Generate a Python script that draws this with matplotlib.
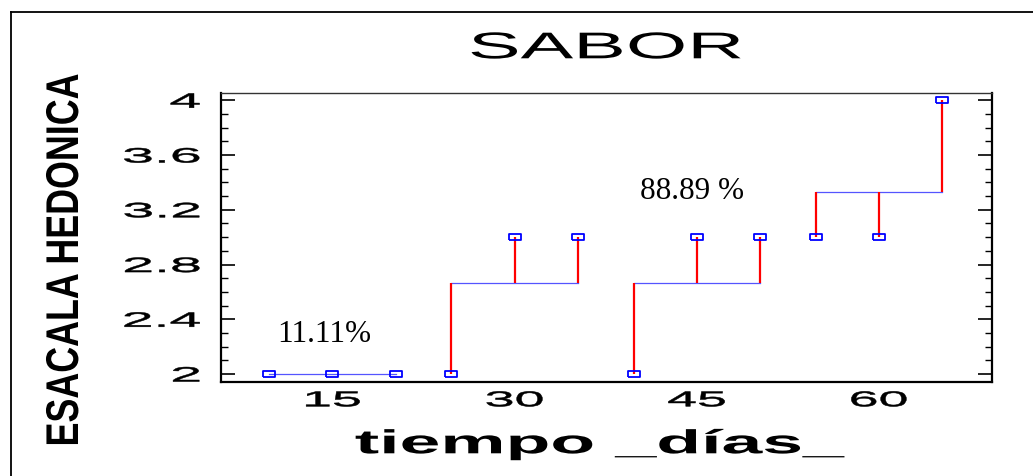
import numpy as np
import matplotlib
matplotlib.use('Agg')
import matplotlib.pyplot as plt
import matplotlib.patheffects as pe
from matplotlib.transforms import Affine2D
from matplotlib.ticker import MultipleLocator
from matplotlib.lines import Line2D

plt.rcParams['font.family'] = ['Liberation Sans', 'DejaVu Sans']

# datos: escala hedonica del sabor, 3 jueces por tiempo
dias = [15, 30, 45, 60]
sabor = [[2, 2, 2],
         [2, 3, 3],
         [2, 3, 3],
         [3, 3, 4]]
ytick_vals = [2, 2.4, 2.8, 3.2, 3.6, 4]
ytick_txt = ['2', '2.4', '2.8', '3.2', '3.6', '4']
notas = ['11.11%', '88.89 %']


class Widen(pe.AbstractPathEffect):
    # the source picture is stretched sideways, so stretch the glyphs too
    # sx along the text line, sy across it (about the baseline)
    def __init__(self, sx, anchor='center', sy=1.0, stroke=0.0):
        super().__init__()
        self.sx = sx
        self.sy = sy
        self.anchor = anchor
        self.stroke = stroke

    def draw_path(self, renderer, gc, tpath, affine, rgbFace=None):
        ext = tpath.get_extents()
        if self.anchor == 'right':
            x0 = ext.x1
        elif self.anchor == 'left':
            x0 = ext.x0
        else:
            x0 = (ext.x0 + ext.x1) / 2
        st = Affine2D().translate(-x0, 0).scale(self.sx, self.sy).translate(x0, 0)
        if self.stroke > 0:
            gc0 = renderer.new_gc()
            gc0.copy_properties(gc)
            gc0.set_linewidth(self.stroke)
            gc0.set_foreground(rgbFace)
            gc = gc0
        renderer.draw_path(gc, tpath, st + affine, rgbFace)


W, H = 1033, 476
fig = plt.figure(figsize=(W / 100, H / 100), dpi=100)
ax = fig.add_axes([221 / W, 94 / H, 770.5 / W, 289 / H])

# flat rectangle marker like the statgraphics one
caja = [(-1, -0.4), (1, -0.4), (1, 0.4), (-1, 0.4), (-1, -0.4)]
spread = 5.2  # sideways offset of the 3 points in a group

for i, d in enumerate(dias):
    xs = d + spread * np.array([-1, 0, 1])
    ys = np.array(sabor[i], dtype=float)
    m = ys.mean()
    ax.plot([xs[0], xs[-1]], [m, m], color='#5555ff', lw=0.9, zorder=2)
    ax.vlines(xs, ys, m, color='red', lw=1.6, zorder=3)
    ax.plot(xs, ys, ls='none', marker=caja, ms=9.2, mfc='none',
            mec='blue', mew=1.3, zorder=4)

ax.set_xlim(5.82, 69.28)
ax.set_ylim(1.942, 4.053)

ax.set_xticks(dias)
ax.set_xticklabels([str(d) for d in dias], fontsize=15.5)
ax.tick_params(axis='x', length=0, pad=6)
for lab in ax.get_xticklabels():
    lab.set_path_effects([Widen(2.5, stroke=0.35)])

ax.set_yticks(ytick_vals)
ax.set_yticklabels(ytick_txt, fontsize=15)
ax.yaxis.set_minor_locator(MultipleLocator(0.1))
ax.tick_params(axis='y', which='both', direction='in', left=True, right=True)
ax.tick_params(axis='y', which='major', length=10, width=1.2, pad=15)
ax.tick_params(axis='y', which='minor', length=5, width=1.0)
for lab in ax.get_yticklabels():
    lab.set_path_effects([Widen(2.75, 'right', stroke=0.35)])

for side in ['left', 'bottom', 'right']:
    ax.spines[side].set_linewidth(1.6)
ax.spines['top'].set_linewidth(1.0)
ax.spines['top'].set_color('#333333')

ax.text(10.45, 2.236, notas[0], family='Liberation Serif', fontsize=22.5,
        ha='left', va='baseline')
ax.text(40.35, 3.277, notas[1], family='Liberation Serif', fontsize=22.5,
        ha='left', va='baseline')

fig.text(606 / W, 1 - 58.3 / H, 'SABOR', fontsize=26.8, ha='center',
         va='baseline', path_effects=[Widen(2.12)])
fig.text(600 / W, 1 - 453.3 / H, 'tiempo _días_', fontsize=24,
         fontweight='bold', ha='center', va='baseline',
         path_effects=[Widen(2.2)])
fig.text(78 / W, 1 - 260 / H, 'ESACALA HEDONICA', fontsize=25.8,
         fontweight='bold', rotation=90, rotation_mode='anchor',
         ha='center', va='baseline', path_effects=[Widen(1.0, sy=1.28)])

# outer frame, only top and left edges are inside the picture
fig.add_artist(Line2D([10.7 / W, 10.7 / W], [0, 1 - 12.3 / H],
                      transform=fig.transFigure, color='black', lw=1.3))
fig.add_artist(Line2D([10.7 / W, 1], [1 - 12.3 / H, 1 - 12.3 / H],
                      transform=fig.transFigure, color='black', lw=1.3))

fig.savefig('out.png', dpi=100)
